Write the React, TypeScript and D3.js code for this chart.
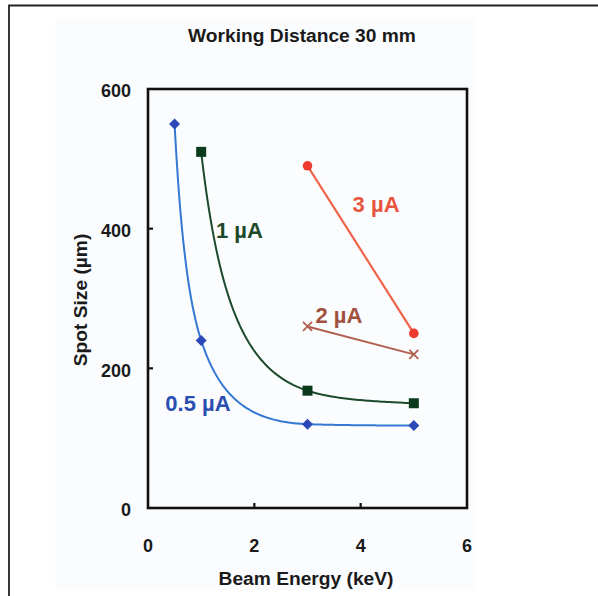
import React from "react";
import * as d3 from "d3";

const xTicks = [0, 2, 4, 6];
const yTicks = [0, 200, 400, 600];

const s05x = [0.5, 1, 3, 5];
const s05y = [550, 240, 120, 118];
const s1x = [1, 3, 5];
const s1y = [510, 168, 150];
const s2x = [3, 5];
const s2y = [260, 220];
const s3x = [3, 5];
const s3y = [490, 250];

const labelText = ["3 µA", "1 µA", "2 µA", "0.5 µA"];
const labelX = [4.29, 1.72, 3.59, 0.94];
const labelY = [435, 398, 276, 150];
const labelColor = ["#e8553f", "#1c4a28", "#a0523f", "#2b4fb0"];

const W = 598;
const H = 596;
const m = { l: 148, r: 467, t: 89, b: 508 };

// Monotone cubic interpolation carried out in log-log space (d3.curveMonotoneX),
// drawn back onto the linear axes.
function logLogMonotone(xs: any, ys: any) {
  return function (context: any) {
    let pts: [number, number][] = [];
    return {
      areaStart() {},
      areaEnd() {},
      lineStart() {
        pts = [];
      },
      point(px: number, py: number) {
        pts.push([px, py]);
      },
      lineEnd() {
        if (!pts.length) return;
        const segs: number[][] = [];
        let cx = 0;
        let cy = 0;
        const proxy = {
          moveTo(a: number, b: number) {
            cx = a;
            cy = b;
          },
          lineTo(a: number, b: number) {
            segs.push([cx, cy, cx, cy, a, b, a, b]);
            cx = a;
            cy = b;
          },
          bezierCurveTo(a: number, b: number, c: number, d: number, e: number, f: number) {
            segs.push([cx, cy, a, b, c, d, e, f]);
            cx = e;
            cy = f;
          },
          closePath() {},
        };
        const mono: any = d3.curveMonotoneX(proxy as any);
        mono.lineStart();
        for (const [px, py] of pts) mono.point(Math.log(xs.invert(px)), Math.log(ys.invert(py)));
        mono.lineEnd();
        context.moveTo(pts[0][0], pts[0][1]);
        const N = 48;
        for (const s of segs) {
          for (let i = 1; i <= N; i++) {
            const t = i / N;
            const u = 1 - t;
            const lx = u * u * u * s[0] + 3 * u * u * t * s[2] + 3 * u * t * t * s[4] + t * t * t * s[6];
            const ly = u * u * u * s[1] + 3 * u * u * t * s[3] + 3 * u * t * t * s[5] + t * t * t * s[7];
            context.lineTo(xs(Math.exp(lx)), ys(Math.exp(ly)));
          }
        }
      },
    };
  };
}

export default function App() {
  const x = d3.scaleLinear().domain([0, 6]).range([m.l, m.r]);
  const y = d3.scaleLinear().domain([0, 600]).range([m.b, m.t]);
  const smooth = d3
    .line<[number, number]>()
    .x((d) => x(d[0]))
    .y((d) => y(d[1]))
    .curve(logLogMonotone(x, y) as any);
  const straight = d3
    .line<[number, number]>()
    .x((d) => x(d[0]))
    .y((d) => y(d[1]));
  const zip = (a: number[], b: number[]) => a.map((v, i) => [v, b[i]] as [number, number]);
  const font = "'Liberation Sans', Arial, Helvetica, sans-serif";
  const ink = "#1a1a1a";

  return (
    <svg
      width={W}
      height={H}
      style={{ position: "absolute", left: 0, top: 0, background: "#fff" }}
      fontFamily={font}
    >
      <rect x={55} y={18} width={420} height={572} fill="#fbfcfe" />
      <path d={`M9,${H} L9,5.5 L${W},5.5`} fill="none" stroke="#222" strokeWidth={1.8} />
      <text x={302} y={42} textAnchor="middle" fontSize={19.2} fontWeight="bold" fill={ink}>
        Working Distance 30 mm
      </text>

      {/* series lines */}
      <path d={smooth(zip(s05x, s05y)) || ""} fill="none" stroke="#3578d4" strokeWidth={2} />
      <path d={smooth(zip(s1x, s1y)) || ""} fill="none" stroke="#1b4a2c" strokeWidth={2} />
      <path d={straight(zip(s2x, s2y)) || ""} fill="none" stroke="#b0604f" strokeWidth={2} />
      <path d={straight(zip(s3x, s3y)) || ""} fill="none" stroke="#f0644c" strokeWidth={2.2} />

      {/* markers */}
      {s05x.map((v, i) => (
        <path
          key={"d" + i}
          d={`M${x(v)},${y(s05y[i]) - 5.5} l5.5,5.5 l-5.5,5.5 l-5.5,-5.5 Z`}
          fill="#2a48b8"
        />
      ))}
      {s1x.map((v, i) => (
        <rect key={"s" + i} x={x(v) - 5} y={y(s1y[i]) - 5} width={10} height={10} fill="#0b3a1c" />
      ))}
      {s2x.map((v, i) => (
        <path
          key={"x" + i}
          d={`M${x(v) - 4.5},${y(s2y[i]) - 4.5} l9,9 M${x(v) + 4.5},${y(s2y[i]) - 4.5} l-9,9`}
          stroke="#b0604f"
          strokeWidth={1.8}
        />
      ))}
      {s3x.map((v, i) => (
        <circle key={"c" + i} cx={x(v)} cy={y(s3y[i])} r={4.8} fill="#f0392f" />
      ))}

      {/* series labels */}
      {labelText.map((t, i) => (
        <text
          key={t}
          x={x(labelX[i])}
          y={y(labelY[i]) + 7.8}
          textAnchor="middle"
          fontSize={22}
          fontWeight="bold"
          fill={labelColor[i]}
        >
          {t}
        </text>
      ))}

      {/* frame and ticks */}
      <rect x={m.l} y={m.t} width={m.r - m.l} height={m.b - m.t} fill="none" stroke="#111" strokeWidth={2.6} />
      {xTicks.slice(1, -1).map((t) => (
        <line key={"xt" + t} x1={x(t)} x2={x(t)} y1={m.b} y2={m.b - 5} stroke="#111" strokeWidth={2.2} />
      ))}
      {yTicks.slice(1, -1).map((t) => (
        <line key={"yt" + t} x1={m.l} x2={m.l + 5} y1={y(t)} y2={y(t)} stroke="#111" strokeWidth={2.2} />
      ))}

      {xTicks.map((t) => (
        <text key={"xl" + t} x={x(t)} y={552} textAnchor="middle" fontSize={18} fontWeight="bold" fill={ink}>
          {t}
        </text>
      ))}
      {yTicks.map((t) => (
        <text
          key={"yl" + t}
          x={131}
          y={y(t) + 8.2}
          textAnchor="end"
          fontSize={18}
          fontWeight="bold"
          fill={ink}
        >
          {t}
        </text>
      ))}

      <text x={306} y={585} textAnchor="middle" fontSize={19.2} fontWeight="bold" fill={ink}>
        Beam Energy (keV)
      </text>
      <text
        transform={`translate(87,300) rotate(-90)`}
        textAnchor="middle"
        fontSize={19.2}
        fontWeight="bold"
        fill={ink}
      >
        Spot Size (µm)
      </text>
    </svg>
  );
}
